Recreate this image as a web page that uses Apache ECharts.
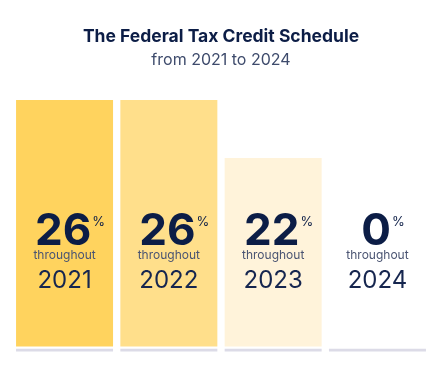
<!DOCTYPE html>
<html><head><meta charset="utf-8">
<script src="https://cdn.jsdelivr.net/npm/echarts@6/dist/echarts.min.js"></script>
<style>html,body{margin:0;padding:0;background:#fff}#c{width:442px;height:366px}</style>
</head><body><div id="c"></div>
<script>
// ---- data ----
const categories = ['2021', '2022', '2023', '2024'];
const rates = [26, 26, 22, 0];
const captionWord = 'throughout';
const underlineValues = [1, 1, 1, 1];
const titleText = 'The Federal Tax Credit Schedule';
const subtitleText = 'from 2021 to 2024';

// ---- styles ----
const barColors = ['#FFD35E', '#FFDF8B', '#FFF3DA', 'rgba(255,255,255,0)'];
const FONT = 'Inter, "Noto Sans", sans-serif';
const NAVY = '#0C1D46';

const chart = echarts.init(document.getElementById('c'), null, {renderer: 'canvas'});
chart.setOption({
  backgroundColor: '#ffffff',
  animation: false,
  title: {
    text: titleText,
    subtext: subtitleText,
    left: 'center',
    top: 22,
    itemGap: 4,
    textStyle: {fontFamily: FONT, fontSize: 17.5, fontWeight: 700, color: NAVY, lineHeight: 20},
    subtextStyle: {fontFamily: FONT, fontSize: 16, fontWeight: 400, color: '#3E4B6C', lineHeight: 18}
  },
  grid: [
    {left: 12.4, right: 12.4, top: 100, bottom: 19.4},
    {left: 12.4, right: 12.4, top: 348.8, height: 2.6}
  ],
  xAxis: [
    {
      type: 'category', gridIndex: 0, data: categories, z: 10,
      axisLine: {show: false}, axisTick: {show: false},
      axisLabel: {
        inside: true, interval: 0, margin: 48, align: 'center',
        fontFamily: FONT,
        formatter: (v, i) => `{num|${rates[i]}}{pct|%}\n{thr|${captionWord}}\n{yr|${v}}`,
        rich: {
          num: {fontFamily: FONT, fontSize: 44, fontWeight: 700, color: NAVY, lineHeight: 34, padding: [0, 0, 0, 11]},
          pct: {fontFamily: FONT, fontSize: 13, fontWeight: 400, color: NAVY, lineHeight: 14, verticalAlign: 'top', padding: [1, 0, 0, 1]},
          thr: {fontFamily: FONT, fontSize: 12, fontWeight: 400, color: '#4A5472', lineHeight: 14},
          yr: {fontFamily: FONT, fontSize: 24, fontWeight: 400, color: '#16264F', lineHeight: 36}
        }
      }
    },
    {
      type: 'category', gridIndex: 1, data: categories,
      axisLine: {show: false}, axisTick: {show: false}, axisLabel: {show: false}
    }
  ],
  yAxis: [
    {type: 'value', gridIndex: 0, min: 9, max: 26, show: false, splitLine: {show: false}},
    {type: 'value', gridIndex: 1, min: 0, max: 1, show: false, splitLine: {show: false}}
  ],
  series: [
    {
      type: 'bar', xAxisIndex: 0, yAxisIndex: 0, clip: true, z: 2,
      barCategoryGap: '7%',
      data: rates.map((v, i) => ({value: v, itemStyle: {color: barColors[i]}}))
    },
    {
      type: 'bar', xAxisIndex: 1, yAxisIndex: 1, clip: true,
      barCategoryGap: '7%',
      itemStyle: {color: '#DCDBE7'},
      data: underlineValues
    }
  ]
});
</script></body></html>
